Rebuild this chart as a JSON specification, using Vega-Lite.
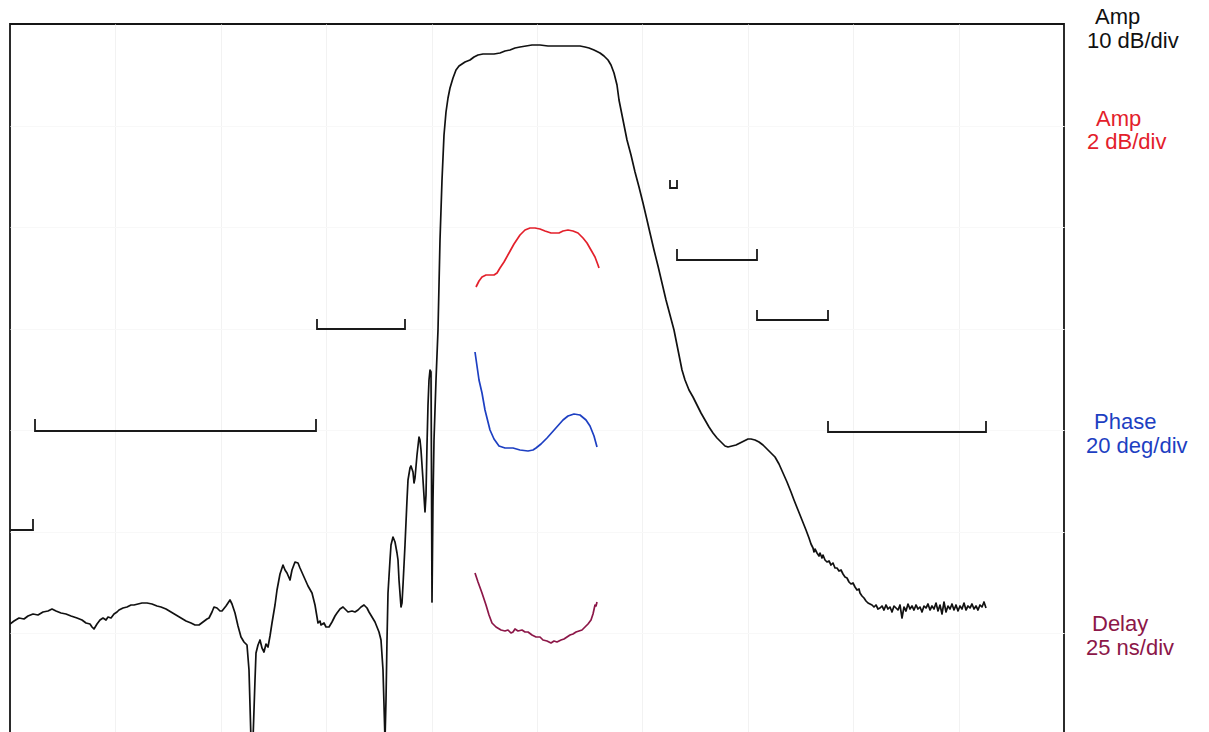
{
"$schema":"https://vega.github.io/schema/vega-lite/v6.json",
"width":1054,"height":711,
"autosize":{"type":"none"},
"padding":{"left":10,"top":24,"right":145,"bottom":0},
"background":"white",
"config":{"view":{"stroke":"#151515","strokeWidth":1.8},"font":"Liberation Sans"},
"datasets":{
"trace":[
{"s":"amp10","x":0,"y":111},{"s":"amp10","x":4,"y":114},{"s":"amp10","x":9,"y":117},{"s":"amp10","x":14,"y":116},{"s":"amp10","x":18,"y":119},{"s":"amp10","x":23,"y":121},{"s":"amp10","x":28,"y":120},{"s":"amp10","x":33,"y":123},{"s":"amp10","x":38,"y":124},{"s":"amp10","x":42,"y":126},{"s":"amp10","x":46,"y":124},{"s":"amp10","x":51,"y":122},{"s":"amp10","x":56,"y":121},{"s":"amp10","x":61,"y":119},{"s":"amp10","x":67,"y":117},{"s":"amp10","x":72,"y":115},{"s":"amp10","x":76,"y":112},{"s":"amp10","x":80,"y":111},{"s":"amp10","x":82,"y":108},{"s":"amp10","x":84,"y":106},{"s":"amp10","x":87,"y":111},{"s":"amp10","x":90,"y":115},{"s":"amp10","x":93,"y":117},{"s":"amp10","x":96,"y":115},{"s":"amp10","x":98,"y":118},{"s":"amp10","x":101,"y":117},{"s":"amp10","x":104,"y":121},{"s":"amp10","x":107,"y":123},{"s":"amp10","x":109,"y":125},{"s":"amp10","x":113,"y":127},{"s":"amp10","x":117,"y":128},{"s":"amp10","x":121,"y":130},{"s":"amp10","x":124,"y":130},{"s":"amp10","x":128,"y":131},{"s":"amp10","x":132,"y":132},{"s":"amp10","x":137,"y":132},{"s":"amp10","x":142,"y":131},{"s":"amp10","x":147,"y":129},{"s":"amp10","x":151,"y":128},{"s":"amp10","x":156,"y":126},{"s":"amp10","x":161,"y":123},{"s":"amp10","x":166,"y":120},{"s":"amp10","x":171,"y":117},{"s":"amp10","x":176,"y":114},{"s":"amp10","x":181,"y":112},{"s":"amp10","x":185,"y":110},{"s":"amp10","x":189,"y":110},{"s":"amp10","x":193,"y":113},{"s":"amp10","x":197,"y":116},{"s":"amp10","x":199,"y":117},{"s":"amp10","x":202,"y":123},{"s":"amp10","x":204,"y":128},{"s":"amp10","x":207,"y":127},{"s":"amp10","x":210,"y":124},{"s":"amp10","x":212,"y":124},{"s":"amp10","x":216,"y":129},{"s":"amp10","x":220,"y":135},{"s":"amp10","x":222,"y":131},{"s":"amp10","x":225,"y":122},{"s":"amp10","x":228,"y":109},{"s":"amp10","x":231,"y":98},{"s":"amp10","x":234,"y":93},{"s":"amp10","x":237,"y":90},{"s":"amp10","x":239,"y":65},{"s":"amp10","x":241,"y":-5},{"s":"amp10","x":243,"y":-5},{"s":"amp10","x":245,"y":55},{"s":"amp10","x":246,"y":82},{"s":"amp10","x":248,"y":90},{"s":"amp10","x":250,"y":95},{"s":"amp10","x":252,"y":87},{"s":"amp10","x":254,"y":83},{"s":"amp10","x":256,"y":91},{"s":"amp10","x":258,"y":88},{"s":"amp10","x":260,"y":99},{"s":"amp10","x":262,"y":112},{"s":"amp10","x":265,"y":130},{"s":"amp10","x":267,"y":145},{"s":"amp10","x":270,"y":161},{"s":"amp10","x":273,"y":170},{"s":"amp10","x":275,"y":165},{"s":"amp10","x":277,"y":162},{"s":"amp10","x":280,"y":155},{"s":"amp10","x":282,"y":165},{"s":"amp10","x":285,"y":173},{"s":"amp10","x":288,"y":172},{"s":"amp10","x":290,"y":167},{"s":"amp10","x":294,"y":158},{"s":"amp10","x":298,"y":149},{"s":"amp10","x":302,"y":142},{"s":"amp10","x":305,"y":130},{"s":"amp10","x":308,"y":112},{"s":"amp10","x":310,"y":114},{"s":"amp10","x":311,"y":110},{"s":"amp10","x":314,"y":112},{"s":"amp10","x":316,"y":108},{"s":"amp10","x":319,"y":108},{"s":"amp10","x":322,"y":113},{"s":"amp10","x":325,"y":119},{"s":"amp10","x":327,"y":122},{"s":"amp10","x":330,"y":126},{"s":"amp10","x":333,"y":128},{"s":"amp10","x":336,"y":125},{"s":"amp10","x":338,"y":123},{"s":"amp10","x":342,"y":124},{"s":"amp10","x":345,"y":123},{"s":"amp10","x":348,"y":125},{"s":"amp10","x":351,"y":128},{"s":"amp10","x":354,"y":130},{"s":"amp10","x":357,"y":127},{"s":"amp10","x":359,"y":123},{"s":"amp10","x":362,"y":118},{"s":"amp10","x":365,"y":113},{"s":"amp10","x":367,"y":108},{"s":"amp10","x":369,"y":103},{"s":"amp10","x":371,"y":95},{"s":"amp10","x":373,"y":65},{"s":"amp10","x":375,"y":-5},{"s":"amp10","x":376,"y":35},{"s":"amp10","x":377,"y":95},{"s":"amp10","x":378,"y":142},{"s":"amp10","x":380,"y":175},{"s":"amp10","x":381,"y":190},{"s":"amp10","x":383,"y":198},{"s":"amp10","x":385,"y":193},{"s":"amp10","x":387,"y":182},{"s":"amp10","x":388,"y":175},{"s":"amp10","x":389,"y":155},{"s":"amp10","x":391,"y":128},{"s":"amp10","x":392,"y":132},{"s":"amp10","x":393,"y":150},{"s":"amp10","x":395,"y":190},{"s":"amp10","x":397,"y":235},{"s":"amp10","x":398,"y":255},{"s":"amp10","x":400,"y":267},{"s":"amp10","x":401,"y":269},{"s":"amp10","x":403,"y":263},{"s":"amp10","x":404,"y":252},{"s":"amp10","x":405,"y":257},{"s":"amp10","x":407,"y":280},{"s":"amp10","x":409,"y":298},{"s":"amp10","x":410,"y":295},{"s":"amp10","x":411,"y":285},{"s":"amp10","x":413,"y":255},{"s":"amp10","x":415,"y":223},{"s":"amp10","x":416,"y":240},{"s":"amp10","x":417,"y":290},{"s":"amp10","x":418,"y":330},{"s":"amp10","x":419,"y":355},{"s":"amp10","x":420,"y":365},{"s":"amp10","x":421,"y":363},{"s":"amp10","x":421.5,"y":255},{"s":"amp10","x":422,"y":133},{"s":"amp10","x":423,"y":235},{"s":"amp10","x":424,"y":295},{"s":"amp10","x":426,"y":355},{"s":"amp10","x":428,"y":405},{"s":"amp10","x":430,"y":495},{"s":"amp10","x":432,"y":555},{"s":"amp10","x":434,"y":600},{"s":"amp10","x":436,"y":623},{"s":"amp10","x":438,"y":637},{"s":"amp10","x":440,"y":647},{"s":"amp10","x":443,"y":657},{"s":"amp10","x":446,"y":665},{"s":"amp10","x":449,"y":669},{"s":"amp10","x":452,"y":671},{"s":"amp10","x":455,"y":673},{"s":"amp10","x":460,"y":675},{"s":"amp10","x":464,"y":678},{"s":"amp10","x":468,"y":680},{"s":"amp10","x":473,"y":681},{"s":"amp10","x":478,"y":681},{"s":"amp10","x":484,"y":681},{"s":"amp10","x":490,"y":682},{"s":"amp10","x":495,"y":684},{"s":"amp10","x":500,"y":685},{"s":"amp10","x":505,"y":687},{"s":"amp10","x":510,"y":688},{"s":"amp10","x":516,"y":689},{"s":"amp10","x":522,"y":690},{"s":"amp10","x":530,"y":690},{"s":"amp10","x":538,"y":689},{"s":"amp10","x":545,"y":689},{"s":"amp10","x":555,"y":689},{"s":"amp10","x":564,"y":689},{"s":"amp10","x":570,"y":689},{"s":"amp10","x":575,"y":688},{"s":"amp10","x":579,"y":687},{"s":"amp10","x":584,"y":685},{"s":"amp10","x":590,"y":682},{"s":"amp10","x":594,"y":679},{"s":"amp10","x":598,"y":675},{"s":"amp10","x":601,"y":670},{"s":"amp10","x":604,"y":662},{"s":"amp10","x":607,"y":650},{"s":"amp10","x":609,"y":635},{"s":"amp10","x":612,"y":620},{"s":"amp10","x":614,"y":610},{"s":"amp10","x":617,"y":595},{"s":"amp10","x":621,"y":580},{"s":"amp10","x":625,"y":563},{"s":"amp10","x":629,"y":548},{"s":"amp10","x":633,"y":532},{"s":"amp10","x":637,"y":515},{"s":"amp10","x":640,"y":502},{"s":"amp10","x":644,"y":485},{"s":"amp10","x":648,"y":469},{"s":"amp10","x":652,"y":452},{"s":"amp10","x":656,"y":435},{"s":"amp10","x":660,"y":420},{"s":"amp10","x":664,"y":405},{"s":"amp10","x":668,"y":385},{"s":"amp10","x":672,"y":365},{"s":"amp10","x":675,"y":355},{"s":"amp10","x":679,"y":345},{"s":"amp10","x":683,"y":338},{"s":"amp10","x":687,"y":330},{"s":"amp10","x":691,"y":322},{"s":"amp10","x":695,"y":315},{"s":"amp10","x":699,"y":308},{"s":"amp10","x":703,"y":302},{"s":"amp10","x":707,"y":297},{"s":"amp10","x":711,"y":293},{"s":"amp10","x":715,"y":289},{"s":"amp10","x":718,"y":288},{"s":"amp10","x":722,"y":289},{"s":"amp10","x":726,"y":290},{"s":"amp10","x":730,"y":292},{"s":"amp10","x":734,"y":294},{"s":"amp10","x":738,"y":296},{"s":"amp10","x":741,"y":296},{"s":"amp10","x":745,"y":295},{"s":"amp10","x":749,"y":293},{"s":"amp10","x":753,"y":290},{"s":"amp10","x":757,"y":286},{"s":"amp10","x":761,"y":282},{"s":"amp10","x":765,"y":278},{"s":"amp10","x":769,"y":271},{"s":"amp10","x":773,"y":262},{"s":"amp10","x":777,"y":253},{"s":"amp10","x":781,"y":243},{"s":"amp10","x":784,"y":235},{"s":"amp10","x":788,"y":225},{"s":"amp10","x":792,"y":215},{"s":"amp10","x":796,"y":205},{"s":"amp10","x":799,"y":197},{"s":"amp10","x":801,"y":191},{"s":"amp10","x":803,"y":187},{"s":"amp10","x":804,"y":183},{"s":"amp10","x":805,"y":186},{"s":"amp10","x":807,"y":182},{"s":"amp10","x":809,"y":179},{"s":"amp10","x":810,"y":182},{"s":"amp10","x":812,"y":177},{"s":"amp10","x":813,"y":180},{"s":"amp10","x":815,"y":175},{"s":"amp10","x":817,"y":173},{"s":"amp10","x":819,"y":174},{"s":"amp10","x":821,"y":170},{"s":"amp10","x":823,"y":172},{"s":"amp10","x":825,"y":167},{"s":"amp10","x":827,"y":167},{"s":"amp10","x":829,"y":164},{"s":"amp10","x":831,"y":165},{"s":"amp10","x":833,"y":161},{"s":"amp10","x":835,"y":158},{"s":"amp10","x":837,"y":157},{"s":"amp10","x":839,"y":153},{"s":"amp10","x":841,"y":151},{"s":"amp10","x":843,"y":152},{"s":"amp10","x":845,"y":148},{"s":"amp10","x":847,"y":145},{"s":"amp10","x":849,"y":146},{"s":"amp10","x":850,"y":142},{"s":"amp10","x":852,"y":139},{"s":"amp10","x":854,"y":137},{"s":"amp10","x":856,"y":134},{"s":"amp10","x":858,"y":132},{"s":"amp10","x":860,"y":131},{"s":"amp10","x":862,"y":130},{"s":"amp10","x":864,"y":128},{"s":"amp10","x":866,"y":130},{"s":"amp10","x":868,"y":126},{"s":"amp10","x":870,"y":127},{"s":"amp10","x":872,"y":129},{"s":"amp10","x":874,"y":125},{"s":"amp10","x":876,"y":130},{"s":"amp10","x":878,"y":126},{"s":"amp10","x":880,"y":128},{"s":"amp10","x":882,"y":123},{"s":"amp10","x":884,"y":129},{"s":"amp10","x":886,"y":127},{"s":"amp10","x":888,"y":125},{"s":"amp10","x":890,"y":130},{"s":"amp10","x":892,"y":117},{"s":"amp10","x":894,"y":128},{"s":"amp10","x":896,"y":124},{"s":"amp10","x":898,"y":131},{"s":"amp10","x":900,"y":126},{"s":"amp10","x":902,"y":129},{"s":"amp10","x":904,"y":125},{"s":"amp10","x":906,"y":130},{"s":"amp10","x":908,"y":126},{"s":"amp10","x":910,"y":128},{"s":"amp10","x":912,"y":123},{"s":"amp10","x":914,"y":129},{"s":"amp10","x":916,"y":127},{"s":"amp10","x":918,"y":131},{"s":"amp10","x":920,"y":125},{"s":"amp10","x":922,"y":129},{"s":"amp10","x":924,"y":126},{"s":"amp10","x":926,"y":132},{"s":"amp10","x":928,"y":124},{"s":"amp10","x":930,"y":130},{"s":"amp10","x":932,"y":121},{"s":"amp10","x":934,"y":133},{"s":"amp10","x":936,"y":123},{"s":"amp10","x":938,"y":129},{"s":"amp10","x":940,"y":126},{"s":"amp10","x":942,"y":131},{"s":"amp10","x":944,"y":125},{"s":"amp10","x":946,"y":130},{"s":"amp10","x":948,"y":124},{"s":"amp10","x":950,"y":129},{"s":"amp10","x":952,"y":126},{"s":"amp10","x":954,"y":132},{"s":"amp10","x":956,"y":125},{"s":"amp10","x":958,"y":129},{"s":"amp10","x":960,"y":127},{"s":"amp10","x":962,"y":131},{"s":"amp10","x":964,"y":126},{"s":"amp10","x":966,"y":129},{"s":"amp10","x":968,"y":125},{"s":"amp10","x":970,"y":130},{"s":"amp10","x":972,"y":128},{"s":"amp10","x":974,"y":133},{"s":"amp10","x":976,"y":127},
{"s":"amp2","x":466,"y":448},{"s":"amp2","x":469,"y":454},{"s":"amp2","x":472,"y":458},{"s":"amp2","x":476,"y":460},{"s":"amp2","x":480,"y":460},{"s":"amp2","x":484,"y":460},{"s":"amp2","x":487,"y":462},{"s":"amp2","x":490,"y":467},{"s":"amp2","x":494,"y":473},{"s":"amp2","x":499,"y":482},{"s":"amp2","x":504,"y":491},{"s":"amp2","x":510,"y":500},{"s":"amp2","x":515,"y":505},{"s":"amp2","x":520,"y":507},{"s":"amp2","x":525,"y":507},{"s":"amp2","x":530,"y":506},{"s":"amp2","x":535,"y":504},{"s":"amp2","x":541,"y":502},{"s":"amp2","x":545,"y":502},{"s":"amp2","x":549,"y":502},{"s":"amp2","x":553,"y":504},{"s":"amp2","x":558,"y":505},{"s":"amp2","x":563,"y":504},{"s":"amp2","x":568,"y":502},{"s":"amp2","x":573,"y":497},{"s":"amp2","x":577,"y":492},{"s":"amp2","x":581,"y":485},{"s":"amp2","x":585,"y":478},{"s":"amp2","x":588,"y":470},{"s":"amp2","x":589,"y":467},
{"s":"phase","x":465,"y":383},{"s":"phase","x":467,"y":369},{"s":"phase","x":469,"y":355},{"s":"phase","x":472,"y":342},{"s":"phase","x":475,"y":325},{"s":"phase","x":478,"y":313},{"s":"phase","x":480,"y":305},{"s":"phase","x":484,"y":296},{"s":"phase","x":489,"y":289},{"s":"phase","x":495,"y":287},{"s":"phase","x":503,"y":287},{"s":"phase","x":510,"y":285},{"s":"phase","x":518,"y":284},{"s":"phase","x":523,"y":285},{"s":"phase","x":526,"y":287},{"s":"phase","x":531,"y":291},{"s":"phase","x":537,"y":297},{"s":"phase","x":545,"y":306},{"s":"phase","x":553,"y":315},{"s":"phase","x":558,"y":319},{"s":"phase","x":564,"y":321},{"s":"phase","x":570,"y":320},{"s":"phase","x":576,"y":315},{"s":"phase","x":580,"y":309},{"s":"phase","x":584,"y":299},{"s":"phase","x":587,"y":288},
{"s":"delay","x":465,"y":162},{"s":"delay","x":468,"y":153},{"s":"delay","x":472,"y":142},{"s":"delay","x":476,"y":130},{"s":"delay","x":479,"y":120},{"s":"delay","x":482,"y":112},{"s":"delay","x":486,"y":108},{"s":"delay","x":491,"y":105},{"s":"delay","x":495,"y":104},{"s":"delay","x":498,"y":105},{"s":"delay","x":501,"y":102},{"s":"delay","x":503,"y":103},{"s":"delay","x":505,"y":106},{"s":"delay","x":508,"y":104},{"s":"delay","x":512,"y":105},{"s":"delay","x":515,"y":103},{"s":"delay","x":518,"y":103},{"s":"delay","x":522,"y":100},{"s":"delay","x":526,"y":98},{"s":"delay","x":530,"y":98},{"s":"delay","x":533,"y":95},{"s":"delay","x":537,"y":94},{"s":"delay","x":541,"y":92},{"s":"delay","x":544,"y":94},{"s":"delay","x":547,"y":93},{"s":"delay","x":551,"y":95},{"s":"delay","x":554,"y":96},{"s":"delay","x":557,"y":98},{"s":"delay","x":560,"y":100},{"s":"delay","x":563,"y":101},{"s":"delay","x":566,"y":103},{"s":"delay","x":569,"y":104},{"s":"delay","x":572,"y":105},{"s":"delay","x":575,"y":108},{"s":"delay","x":578,"y":111},{"s":"delay","x":581,"y":115},{"s":"delay","x":583,"y":121},{"s":"delay","x":585,"y":130},{"s":"delay","x":586,"y":129},{"s":"delay","x":587,"y":133}
],
"brackets":[
{"b":"A","i":0,"x":0,"y":205},{"b":"A","i":1,"x":23,"y":205},{"b":"A","i":2,"x":23,"y":216},
{"b":"B","i":0,"x":25,"y":316},{"b":"B","i":1,"x":25,"y":304},{"b":"B","i":2,"x":306,"y":304},{"b":"B","i":3,"x":306,"y":316},
{"b":"C","i":0,"x":307,"y":416},{"b":"C","i":1,"x":307,"y":406},{"b":"C","i":2,"x":395,"y":406},{"b":"C","i":3,"x":395,"y":416},
{"b":"D","i":0,"x":660,"y":555},{"b":"D","i":1,"x":660,"y":547},{"b":"D","i":2,"x":667,"y":547},{"b":"D","i":3,"x":667,"y":555},
{"b":"E","i":0,"x":667,"y":486},{"b":"E","i":1,"x":667,"y":475},{"b":"E","i":2,"x":747,"y":475},{"b":"E","i":3,"x":747,"y":486},
{"b":"F","i":0,"x":747,"y":425},{"b":"F","i":1,"x":747,"y":415},{"b":"F","i":2,"x":818,"y":415},{"b":"F","i":3,"x":818,"y":425},
{"b":"G","i":0,"x":818,"y":314},{"b":"G","i":1,"x":818,"y":303},{"b":"G","i":2,"x":976,"y":303},{"b":"G","i":3,"x":976,"y":314}
],
"labels":[
{"s":"amp10","t":"Amp","x":1085,"y":711},{"s":"amp10","t":"10 dB/div","x":1077,"y":687},
{"s":"amp2","t":"Amp","x":1086,"y":609},{"s":"amp2","t":"2 dB/div","x":1077,"y":586},
{"s":"phase","t":"Phase","x":1084,"y":306},{"s":"phase","t":"20 deg/div","x":1076,"y":282},
{"s":"delay","t":"Delay","x":1082,"y":104},{"s":"delay","t":"25 ns/div","x":1076,"y":80}
]
},
"encoding":{
"x":{"field":"x","type":"quantitative","scale":{"domain":[0,1054],"nice":false,"zero":false},
"axis":{"title":null,"labels":false,"ticks":false,"domain":false,"grid":true,"gridColor":"#f2f2f2","gridWidth":1,"values":[105.4,210.8,316.2,421.6,527,632.4,737.8,843.2,948.6]}},
"y":{"field":"y","type":"quantitative","scale":{"domain":[0,711],"nice":false,"zero":false},
"axis":{"title":null,"labels":false,"ticks":false,"domain":false,"grid":true,"gridColor":"#f8f8f8","gridWidth":1,"values":[101.6,203.1,304.7,406.3,507.9,609.4]}}
},
"layer":[
{"data":{"name":"brackets"},"mark":{"type":"line","color":"#1a1a1a","strokeWidth":1.8,"strokeJoin":"miter","clip":true},
"encoding":{"detail":{"field":"b"},"order":{"field":"i","type":"quantitative"}}},
{"data":{"name":"trace"},"mark":{"type":"line","strokeWidth":1.7,"clip":true,"strokeJoin":"round"},
"encoding":{"color":{"field":"s","type":"nominal","legend":null,
"scale":{"domain":["amp10","amp2","phase","delay"],"range":["#111111","#e3202b","#1d3fc2","#8c1748"]}}}},
{"data":{"name":"labels"},"mark":{"type":"text","align":"left","baseline":"alphabetic","fontSize":22,"font":"Liberation Sans"},
"encoding":{"text":{"field":"t"},"color":{"field":"s","type":"nominal","legend":null,
"scale":{"domain":["amp10","amp2","phase","delay"],"range":["#111111","#e3202b","#1d3fc2","#8c1748"]}}}}
]
}
